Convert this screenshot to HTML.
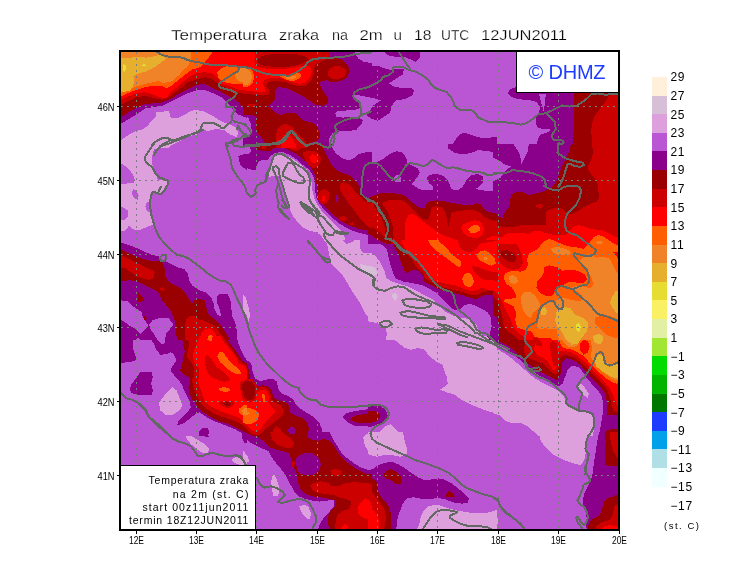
<!DOCTYPE html>
<html><head><meta charset="utf-8"><title>Temperatura zraka na 2m</title>
<style>
html,body{margin:0;padding:0;background:#fff;}
body{width:740px;height:582px;overflow:hidden;position:relative;font-family:"Liberation Sans",sans-serif;}
svg{position:absolute;left:0;top:0;}
text{font-family:"Liberation Sans",sans-serif;fill:#000;}
</style></head><body>
<svg style="will-change:transform" width="740" height="582" viewBox="0 0 740 582">
<defs><clipPath id="mapclip"><rect x="120" y="51" width="499" height="479"/></clipPath></defs>
<rect x="0" y="0" width="740" height="582" fill="#ffffff"/>
<g clip-path="url(#mapclip)" shape-rendering="crispEdges">
<rect x="120" y="51" width="499" height="479" fill="#BA55D3"/>
<path fill="#DDA0DD" d="M118.3,142.1 L126.8,136.1 L133.5,131.9 L142,129.4 L147.9,126 L151.2,120.9 L156.3,115.9 L156.3,112.5 L162.2,111.7 L169,111.1 L170.7,117.6 L177.4,118.4 L184.2,115 L190.9,110.8 L196.9,110 L204.5,111.7 L211.2,115 L218,119.3 L224.7,122.6 L231.5,125.2 L236.6,127.7 L238.2,132.8 L236.6,137 L229.8,134.5 L224.7,130.2 L219.7,129.4 L214.6,129.4 L207.8,131.1 L202.8,129.4 L199.4,131.9 L196.9,134.5 L192.6,135.3 L187.6,137 L182.5,139.5 L177.4,142.1 L172.4,144.6 L169,148 L118.3,148Z M118.3,144.3 L172.4,144.3 L162.2,146.8 L153.8,149.4 L152.4,155.3 L152.1,162.9 L153.8,169.6 L156.3,175.6 L158,179.8 L167.3,180.6 L168.1,184 L165.6,189.9 L160.5,194.1 L153.8,192.5 L151.2,195 L150.4,200.1 L151.2,208.5 L152.9,216.9 L154.6,223.7 L147,227.1 L140.3,229.6 L135.2,230.1 L131.8,228.8 L129.3,225.4 L126.8,228.8 L124.2,231.3 L118.3,231.3Z M158.9,403 L165.6,393.7 L172.4,387.3 L176.6,390.4 L180,398.8 L182.5,405.6 L179.1,410.6 L172.4,414.9 L165.6,414.9 L160.5,410.6Z M185.9,436.5 L190.9,435.7 L197.7,439.9 L204.5,444.1 L209.5,448.4 L207.8,452.6 L202.8,453.4 L196.9,449.2 L190.9,444.1 L187.6,439.9Z M231.5,459.3 L236.6,456.8 L243.3,457.6 L246.7,459.3 L246.7,465.2 L238.2,464.4 L233.2,461.9Z M272.9,158.7 L276.2,155.3 L281.3,154.4 L287.2,156.1 L294,159.5 L300.7,164.6 L306.7,169.6 L310,175.6 L311.7,183.2 L312.6,191.6 L314.3,198.4 L317.6,205.1 L322.7,212.7 L329.5,219.5 L336.2,225.4 L341.3,231.3 L344.7,237.2 L346.4,244 L327.8,244 L324.4,240.6 L321,235.5 L315.9,232.1 L309.2,230.5 L302.4,227.1 L297.4,222 L293.1,216.1 L289.8,209.3 L287.2,201.7 L284.7,193.3 L282.5,186.5 L281.3,179.8 L277.9,175.6 L272.9,176.4 L268.6,176.7 L268.3,173.9 L270.3,169.6 L272,164.6Z M371.7,240.3 L371.7,321.4 L370,319.7 L364.9,312.9 L359.9,302.8 L353.1,292.7 L348,284.2 L343,275.8 L336.2,269 L331.1,264 L329.5,255.5 L327.8,247.1 L326.1,240.3Z M243.3,294.4 L245.8,297.7 L249.2,309.6 L250.1,316.3 L248.4,321.4 L246.7,314.6 L243.3,312.9Z M272,476.2 L274.6,474.5 L277.9,483 L279.6,489.7 L277.9,495.7 L273.7,496.5 L272,489.7 L271.2,483Z M299.1,506.6 L304.1,504.9 L308.3,506.6 L310.9,513.4 L310,519.3 L306.7,518.5 L302.4,513.4Z M363.2,437.4 L366.6,434 L371.7,433.2 L371.7,450.9 L368.3,450.9 L364.9,445.8Z M243.3,450.9 L247.5,456 L249.2,461.9 L245,461 L243.3,459.3Z M368.3,253 L375.1,255.5 L380.1,262.3 L384.4,270.7 L386,277.5 L392,281.7 L400.4,284.2 L408.9,286.8 L417.3,291 L425.7,296.1 L434.2,300.3 L439.3,306.2 L444.3,311.3 L451.1,314.6 L457.8,317.2 L464.6,318 L471.4,320.5 L476.4,324.8 L478.1,329.8 L481.5,334.1 L488.2,340 L386,340 L386.9,333.2 L385.2,326.5 L376.8,323.1 L368.3,321.4Z M496.7,336.3 L496.7,413.2 L491.6,412.3 L481.5,408.9 L471.4,404.7 L461.2,399.7 L454.5,394.6 L446,392.1 L440.1,389.5 L444.3,387 L447.7,383.6 L446.9,376.9 L444.3,370.9 L442.6,365 L435.9,361.6 L428.3,354.9 L424.1,349 L417.3,348.1 L410.5,349.8 L403.8,347.3 L395.3,340.5 L388.6,336.3Z M376.8,436 L380.1,430.9 L386,425.8 L391.1,424.1 L395.3,428.4 L399.6,432.6 L402.1,436Z M368.3,432.3 L402.9,432.3 L404.6,440.8 L407.2,449.2 L406.3,455.1 L400.4,456.8 L392,455.1 L383.5,455.1 L376.8,456.8 L368.3,454.3Z M414.8,532 L419,525.2 L420.7,516.8 L424.1,510 L429.1,505.8 L437.6,504.9 L446,507.5 L454.5,510 L464.6,511.7 L474.7,513.4 L484.9,513.4 L491.6,511.7 L496.7,510 L496.7,532Z M493.3,348.1 L500.1,350.7 L506.8,354.9 L513.6,360 L520.3,365.9 L527.1,371.8 L533.9,377.7 L542.3,382.8 L550.7,387 L557.5,390.4 L562.6,394.6 L565.9,400.5 L569.3,405.6 L574.4,408.9 L579.5,410.6 L586.2,412.3 L593,415.7 L594.7,422.5 L593.8,429.2 L593,436 L538.9,436 L533.9,431.8 L527.1,425.8 L520.3,422.5 L511.9,423.3 L505.1,420.8 L500.1,415.7 L493.3,413.2Z M577.8,386.1 L581.1,383.9 L584.5,387 L588.8,393.7 L587.9,398 L582.8,394.6 L579.5,390.4Z M587.6,432.3 L587.1,442.4 L586.2,450.9 L584.5,459.3 L581.1,465.2 L574.4,463.6 L565.9,461 L559.2,457.6 L552.4,454.3 L545.7,447.5 L540.6,440.8 L538.9,432.3Z M493.3,516.8 L497.5,517.6 L498.4,523.5 L495.8,526.1 L493.3,525.2Z"/>
<path fill="#BA55D3" d="M118.3,162 L123.4,164.6 L128.4,168.8 L132.7,173.9 L134.9,179.8 L133.5,183.2 L126.8,183.5 L118.3,184.5Z M132.7,189.1 L136,189.9 L138.6,195 L137.7,200.1 L134.4,198.4 L132.2,194.1Z M118.3,206.8 L124.2,207.7 L128.4,211 L128.4,216.1 L125.1,219.5 L118.3,220.3Z M147,201.7 L150.4,202.6 L150.4,212.7 L147,211 L145.3,206.8Z M354,240.3 L353.1,242 L346.4,244 L343,240.3Z M371.7,240.3 L371.7,253.5 L363.2,252.5 L359.9,248.8 L359.9,240.3Z"/>
<path fill="#8B008B" d="M118.3,46.6 L246.7,46.6 L246.7,117.6 L238.2,114.7 L229.8,105.7 L221.4,97.3 L212.9,93.1 L207.8,91 L202.8,89.7 L196,90.5 L187.6,93.1 L179.1,97.3 L170.7,101.5 L162.2,105.7 L153.8,107.1 L145.3,108.3 L136.9,114.2 L128.4,119.3 L118.3,125.2Z M238.2,156.1 L245,153.6 L246.7,153.6 L246.7,169.6 L245,168.8 L239.9,164.6 L239.1,159.5Z M118.3,242.8 L125.1,243.7 L131.8,246.2 L138.6,248.8 L145.3,252.1 L152.1,254.7 L158.9,256.4 L160.5,260.6 L165.6,261.4 L170.7,264 L177.4,267.3 L184.2,269 L187.6,273.2 L189.3,280.9 L192.6,285.9 L199.4,290.1 L206.1,292.7 L211.2,297.7 L213.8,303.7 L214.6,309.6 L217.1,314.6 L221.4,316.3 L219.7,309.6 L217.1,302.8 L216.6,297.7 L218.8,294.7 L223,293.5 L228.1,294.4 L230.6,301.1 L231.5,309.6 L232.3,316.3 L234.9,321.4 L236.6,329.8 L236.6,340 L118.3,340Z M118.3,336.3 L132.7,336.3 L133.5,343.1 L136,348.1 L136.9,354.9 L135.2,360.8 L126.8,362.5 L118.3,363.3Z M246.7,336.3 L246.7,435.1 L241.6,432.6 L234.9,429.2 L226.4,425.8 L218,422.5 L211.2,419.9 L204.5,415.7 L199.4,412.3 L194.3,414.9 L189.3,419.1 L182.5,424.1 L177.4,425 L178.3,420.8 L182.5,417.4 L187.6,412.3 L190.9,407.3 L189.3,400.5 L185,392.1 L182.5,386.1 L179.1,380.2 L174.9,376 L170.7,370.9 L172.4,365.9 L176.6,360.8 L174.1,354.9 L170.7,352.4 L166.5,354 L160.5,354.9 L156.3,349.8 L153.8,343.1 L147.9,336.3Z M130.1,388.7 L131.8,383.6 L136,378.5 L140.3,371.8 L145.3,369.2 L151.2,370.9 L152.9,376.9 L151.2,383.6 L152.9,390.4 L152.1,394.6 L145.3,395.4 L136.9,394.6 L131,392.9Z M198.5,431.8 L201.9,428.4 L207,427.5 L209.5,430.9 L207.8,436 L199.4,436Z M201.1,432.3 L207.8,432.3 L208.7,436.5 L205.3,437.4Z M241.6,432.3 L246.7,432.3 L246.7,443.3 L244.2,442.4 L242,437.4Z M243.3,46.6 L354.8,46.6 L355.1,54.2 L358.2,58.4 L363.2,61.5 L371.7,63.2 L371.7,98.1 L370,97.6 L353.8,94.3 L352.4,97 L354,100 L359,102 L360.5,107.9 L356.5,109.5 L346.4,110.5 L337.1,111.1 L335.4,113.3 L336.2,116.7 L343,117.6 L349.7,117.1 L356.5,117.6 L361.6,118.9 L362.6,120.1 L362.1,123 L356,130.1 L349.7,130.7 L339.6,131.4 L332.8,132.8 L329.5,137.8 L327.8,148 L243.3,148 L243.3,137.8 L248.4,136.1 L251.8,131.1 L250.9,124.3 L248.4,117.6 L243.3,114.2Z M243.3,144.3 L331.5,144.3 L332.8,149.4 L337.1,154.4 L343,158.7 L349.7,160.4 L354.8,157.8 L358.2,154.4 L363.2,152.8 L370,151.9 L371.7,151.9 L371.7,237.2 L370,235.5 L363.2,233.8 L356.5,232.1 L348,228.8 L339.6,223.7 L331.1,216.9 L324.4,210.2 L319.3,203.4 L315.9,196.7 L315.1,188.2 L314.3,179.8 L312.6,174.7 L309.2,169.6 L302.4,164.6 L295.7,158.7 L288.9,154.4 L282.2,151.9 L275.4,152.8 L270.3,156.1 L267.8,160.4 L263.6,159.5 L259.4,160.9 L256.8,164.6 L256,169.6 L251.8,169.6 L246.7,168 L243.3,166.3Z M243.3,359.1 L248.4,360.8 L251.8,365 L252.6,371.8 L255.1,378.5 L260.2,381.1 L267,379.4 L272.9,378.5 L277.1,381.9 L277.9,388.7 L282.2,393.7 L288.9,396.3 L293.1,399.7 L295.7,404.7 L300.7,408.9 L307.5,413.2 L314.3,417.4 L319.3,422.5 L321.9,429.2 L323.5,436 L243.3,436Z M342.6,417.4 L346.4,413.2 L353.1,411.5 L363.2,409.8 L371.7,408.9 L371.7,426.7 L363.2,425.8 L354.8,425.8 L348,422.5Z M329.5,432.3 L332.8,439.1 L337.1,445.8 L341.3,452.6 L346.4,457.6 L353.1,462.7 L359.9,466.9 L366.6,469.5 L371.7,470.3 L371.7,532 L317.6,532 L318.5,527.8 L321,521.8 L324.4,516.8 L329.5,511.7 L333.7,506.6 L334.5,499.9 L326.1,500.7 L319.3,501.6 L312.6,500.7 L305.8,499 L299.1,496.5 L294,491.4 L290.6,484.7 L287.2,477.9 L282.2,470.3 L277.1,464.4 L272,457.6 L268.6,450.9 L263.6,449.2 L256.8,445.8 L250.1,442.4 L243.3,437.4 L243.3,432.3Z M381.8,46.6 L420.7,46.6 L419.8,57.6 L415.6,61.8 L410.5,59.3 L403.8,56.8 L395.3,56.8 L386.9,55.1Z M368.3,65.2 L378.4,66 L385.2,68.6 L392,70.3 L397,68.6 L403.8,69.4 L402.9,74.5 L397,77.9 L392,81.2 L388.9,83.4 L395.3,87.2 L403.8,88 L411.4,88 L414.3,90.5 L412.2,95.6 L407.2,98.1 L400.4,99.8 L395.3,100.7 L392.8,104.1 L391.1,108.3 L390.3,112.5 L385.2,115.9 L380.1,119.3 L377.4,120.8 L372,118.9 L366.8,115.4 L373.2,105.7 L380.8,100.3 L373.4,98.1 L368.3,97Z M451.1,148 L454.5,141.2 L457.8,136.1 L462.1,133.1 L468,133.6 L474.7,136.1 L481.5,137.8 L488.2,137.8 L496.7,137 L496.7,148Z M368.3,161.2 L376.8,162 L383.5,158.7 L390.3,153.6 L397,151.1 L402.9,152.8 L406.3,157.8 L407.2,162.9 L412.2,165.4 L417.3,168 L419.8,172.2 L417.3,177.2 L413.9,181.5 L411.4,184 L419,189.1 L425.7,190.3 L432.5,189.9 L433.3,186.5 L429.1,183.2 L426.6,178.9 L428.3,175.6 L433.3,173.9 L440.9,174.7 L446,178.1 L449.4,183.2 L451.1,189.1 L457.8,190.3 L462.1,187.4 L465.4,182.3 L468,178.1 L471.4,175.1 L478.1,173.9 L483.2,176.4 L483.5,181.5 L479.8,185.7 L475.6,189.1 L481.5,190.3 L488.2,190.8 L496.7,190.3 L496.7,244 L368.3,244Z M496.7,144.3 L496.7,152.8 L488.2,151.1 L478.1,150.2 L471.4,152.8 L462.9,154.4 L454.5,152.8 L448.5,148.5 L447.7,144.3Z M496.7,240.3 L496.7,340 L488.2,340 L489.9,333.2 L491.6,326.5 L490.8,318 L488.2,312.9 L483.2,309.6 L476.4,306.2 L469.7,303.7 L464.6,305.3 L461.2,308.7 L456.1,310.4 L451.1,307.9 L446,302.8 L440.9,297.7 L435.9,292.7 L429.1,288.5 L422.4,285.1 L413.9,283.4 L403.8,281.7 L395.3,278.3 L392.8,272.4 L390.3,264 L388.6,257.2 L386.9,248.8 L380.1,243.7 L373.4,240.3Z M368.3,405.6 L375.1,404.7 L381,406.4 L386,410.6 L387.7,415.7 L384.4,421.6 L378.4,424.1 L371.7,426.7 L368.3,427.5Z M496.7,336.3 L496.7,341.4 L491.6,340.5 L486.6,336.3Z M368.3,470.3 L373.4,468.6 L378.4,465.2 L385.2,462.7 L392,461.9 L398.7,464.4 L405.5,468.6 L412.2,473.7 L419,477.9 L424.1,479.9 L430.8,479.6 L437.6,478.3 L444.3,479.6 L451.1,483 L457.8,488.1 L464.6,494 L468.8,498.2 L468,503.3 L461.2,503.6 L452.8,502.4 L444.3,499 L437.6,497.9 L430.8,499 L422.4,499 L413.9,497.3 L407.2,498.2 L402.9,503.3 L400.4,510 L397.9,516.8 L396.7,523.5 L396.2,532 L368.3,532Z M621.7,87.2 L621.7,148 L535.5,148 L538.1,138.7 L540.6,134.5 L545.7,132.8 L550.7,131.1 L549.1,128.5 L544,129.4 L538.1,127.7 L535.5,122.6 L536.4,116.7 L539.3,111.7 L539.8,106.6 L537.2,102.4 L532.2,100.7 L525.4,99.8 L517,99 L511.9,97.3 L507.7,93.1 L510.2,88.9 L516.1,87.2Z M493.3,144.3 L621.7,144.3 L621.7,244 L493.3,244Z M493.3,336.3 L621.7,336.3 L621.7,436 L599.7,436 L600.6,425.8 L602.3,417.4 L603.1,408.9 L603.1,402.2 L601.4,395.4 L598,390.4 L593,385.3 L587.1,378.5 L582.8,371.8 L577.8,366.7 L571,365.9 L567.6,370.1 L565.1,376.9 L562.6,383.6 L559.2,386.1 L554.1,384.5 L545.7,379.4 L537.2,374.3 L528.8,367.6 L522,361.6 L515.3,355.7 L508.5,350.7 L500.1,344.8 L493.3,341.4Z M621.7,432.3 L621.7,532 L587.1,532 L586.2,526.1 L587.1,520.1 L585.4,511.7 L582.8,503.3 L583.7,494.8 L587.1,488.1 L590.4,481.3 L593,472.9 L593.8,462.7 L595.5,452.6 L597.2,442.4 L598.9,432.3Z"/>
<path fill="#9B0000" d="M118.3,46.6 L246.7,46.6 L246.7,113.3 L238.2,101.5 L229.8,96.8 L221.4,91.9 L212.9,88 L206.1,84.3 L201.1,83.8 L196,85.5 L187.6,88.9 L179.1,93.9 L170.7,99 L162.2,102.4 L153.8,103.2 L145.3,104.1 L136.9,108.3 L128.4,112.5 L118.3,118.9Z M118.3,248.8 L125.1,251.3 L131.8,254.7 L138.6,257.2 L145.3,259.7 L152.1,261.4 L158.9,260.6 L163.1,263.1 L164.8,269 L164.8,275.8 L168.1,280.9 L174.1,285.1 L180.8,288.5 L185,292.7 L189.3,299.4 L191.8,303.7 L194.3,300.3 L199.4,298.6 L204.5,300.3 L206.1,306.2 L207.8,312.9 L212.9,318 L218,322.2 L223,328.1 L228.1,336.6 L229.8,340 L177.4,340 L175.7,333.2 L175.7,326.5 L174.1,318 L170.7,311.3 L165.6,304.5 L161.4,300.3 L159.7,294.4 L156.3,291 L150.4,287.6 L143.6,284.2 L136.9,281.7 L130.1,280 L123.4,281.2 L118.3,282.2Z M137.7,292.7 L143.6,297.7 L143.6,301.1 L137.7,302Z M142,318 L144.5,316 L147,318.9 L144.5,321.1Z M224.7,336.3 L229.8,343.1 L234.9,349.8 L238.2,354.9 L241.6,360 L246.7,363.3 L246.7,432.6 L241.6,430.1 L234.9,426.7 L226.4,423.3 L218,420.8 L211.2,417.4 L204.5,413.2 L199.4,408.9 L196,404.7 L192.6,399.7 L189.3,393.7 L188.4,387 L190.1,381.9 L189.3,377.7 L184.2,374.3 L180,370.9 L181.7,365 L183.3,358.3 L185,351.5 L183.3,344.8 L181.7,336.3Z M243.3,46.6 L330.3,46.6 L330.3,56.8 L336.2,58.4 L343,60.1 L348,65.2 L349.7,72 L346.4,77.9 L339.6,81.2 L332.8,82.1 L326.1,80.4 L321,81.2 L319.3,83.8 L322.7,90.5 L326.1,95.6 L328.6,99.8 L327.8,103.2 L322.7,105.7 L315.9,104.9 L310.9,101.5 L305.8,98.1 L299.1,93.9 L292.3,90.5 L285.5,88 L278.8,87.2 L275.4,89.7 L275.4,95.6 L274.6,99.8 L270.3,104.1 L267.8,106.6 L270.3,108.3 L275.4,112.5 L280.5,115 L287.2,113.3 L294,112.8 L299.1,115.9 L302.4,120.1 L309.2,121.8 L315.9,125.2 L319.3,131.1 L320.2,137.8 L315.9,141.2 L309.2,142.9 L304.1,148 L270.3,148 L265.3,143.8 L261.9,137.8 L258.5,134.5 L256,129.4 L256,122.6 L256.8,117.6 L251.8,115 L243.3,115Z M274.6,144.3 L273.7,147.7 L270.3,151.1 L263.6,151.4 L256.8,149.4 L255.8,144.3Z M323.4,144.3 L324.4,151.1 L327.8,157.8 L331.1,164.6 L336.2,169.6 L343,173 L349.7,175.6 L354.8,179.8 L359.9,186.5 L361.6,193.3 L364.9,198.4 L371.7,201.7 L371.7,231.3 L366.6,230.5 L358.2,228.8 L349.7,225.4 L341.3,221.2 L332.8,214.4 L326.1,207.7 L321,201.7 L317.6,195 L316.8,186.5 L315.9,178.1 L313.4,171.3 L309.2,164.6 L302.4,158.7 L295.7,153.6 L290.6,151.1 L286.4,148.5 L284.7,144.3Z M243.3,363.3 L247.5,365.9 L249.2,371.8 L250.1,378.5 L253.4,384.5 L258.5,386.1 L263.6,385.3 L268.6,387 L272,390.4 L272.9,397.1 L278.8,400.5 L285.5,402.2 L289.3,405.6 L289.8,412.3 L295.7,415.7 L302.4,418.2 L307.5,422.5 L308.9,429.2 L307.5,436 L253.4,436 L243.3,431.8Z M349.7,419.1 L354.8,415.7 L363.2,414 L371.7,413.2 L371.7,423.3 L363.2,423.3 L354.8,422.1Z M305.8,432.3 L307.5,437.4 L312.6,439.9 L318.5,440.8 L322.7,439.1 L327.8,439.9 L332.8,444.1 L337.1,450.9 L341.3,456.8 L346.4,461.9 L353.1,466.9 L359.9,471.2 L366.6,473.7 L371.7,474.5 L371.7,532 L329.5,532 L328.1,523.5 L327.8,516.8 L330.3,511.7 L334.5,506.6 L336.2,500.7 L329.5,499 L321,497.3 L312.6,496.5 L305.8,494 L300.7,489.7 L298.2,483 L297.4,475.4 L295.7,470.3 L293.1,467.8 L291.5,461 L289.8,453.4 L283.9,451.7 L277.1,450 L270.3,447.5 L265.3,442.4 L258.5,437.4 L253.4,432.3Z M368.3,198.4 L375.1,195 L383.5,192.5 L392,193 L400.4,194.1 L406.3,196.7 L410.5,200.9 L415.6,205.1 L420.7,207.7 L424.1,208.5 L426.6,203.4 L430.8,200.9 L437.6,200.4 L446,201.7 L454.5,203.4 L464.6,205.1 L471.4,205.1 L476.4,203.4 L480.6,204.3 L483.2,208.5 L488.2,211.9 L496.7,213.6 L496.7,244 L388.6,244 L383.9,243.1 L376.9,238.9 L368.3,234Z M496.7,240.3 L496.7,296.1 L491.6,295.2 L484.9,294.7 L479.8,296.9 L476.4,299.4 L469.7,297.7 L462.9,295.2 L456.1,293.5 L449.4,292.7 L442.6,291 L435.9,287.6 L429.1,284.2 L424.1,281.7 L423.2,275.8 L419,270.7 L413.1,269.9 L408.9,272.4 L405.5,273.2 L402.9,267.3 L400.4,260.6 L397.9,253.8 L394.5,247.1 L392,240.3Z M368.3,410.6 L374.2,410.6 L379.3,413.2 L380.1,417.4 L376.8,420.8 L371.7,422.5 L368.3,423.3Z M383.2,475.4 L386,471.2 L390.3,469.1 L395.3,471.2 L400.4,475.4 L401.8,480.5 L400.4,484.7 L395.3,483.8 L390.3,479.6 L385.2,478.3Z M446.4,494 L448.5,491.4 L452.8,493.1 L454.5,496.5 L449.4,497.3 L446.4,496.5Z M368.3,478.8 L375.1,479.6 L377.6,484.7 L378.4,491.4 L381.8,498.2 L386.9,503.3 L390.3,510 L391.1,518.5 L391.1,532 L368.3,532Z M621.7,87.2 L621.7,148 L573,148 L573.5,131.1 L574.1,117.6 L574.1,87.2Z M621.7,144.3 L621.7,244 L493.3,244 L493.3,214.4 L498.4,216.9 L505.1,218.6 L502.6,215.3 L505.1,211.9 L509.4,206.8 L510.2,200.1 L511,194.1 L517,191.9 L522.9,192.5 L528.8,195 L535.5,193.3 L542.3,191.6 L549.1,189.1 L554.1,184.9 L557.5,178.9 L560,171.3 L562.6,164.6 L565.9,157.8 L569.3,151.1 L571,144.3Z M493.3,336.3 L621.7,336.3 L621.7,416.5 L618.3,415.7 L613.2,414.9 L607.3,414.9 L606.5,408.9 L606.5,400.5 L604.8,393.7 L601.4,387.8 L596.4,382.8 L591.3,377.7 L586.2,371.8 L581.1,365.9 L576.1,361.6 L571,359.1 L565.9,358.3 L562.6,361.6 L561.7,368.4 L560,376 L557.5,380.2 L552.4,377.7 L545.7,374.3 L537.2,370.1 L528.8,364.2 L522.9,359.1 L517,353.2 L510.2,347.3 L501.8,342.2 L493.3,338.8Z M604.8,436 L605.6,430.9 L611.6,429.2 L621.7,428.4 L621.7,436Z M621.7,432.3 L621.7,466.9 L613.2,466.1 L605.6,465.2 L604.8,459.3 L604.8,450.9 L605.6,440.8 L604.8,432.3Z M587.1,532 L588.8,523.5 L593,518.5 L599.7,515.1 L602.3,508.3 L603.1,501.6 L608.2,498.2 L614.9,495.7 L621.7,493.1 L621.7,532Z"/>
<path fill="#CD0000" d="M118.3,46.6 L246.7,46.6 L246.7,93.6 L238.2,93.1 L229.8,89.2 L221.4,86.3 L212.9,79.6 L209.5,77.9 L204.5,77 L196,79.6 L187.6,82.1 L179.1,89.7 L170.7,95.6 L162.2,99.8 L153.8,98.1 L145.3,95.6 L136.9,97.3 L128.4,100.7 L118.3,106.6Z M118.3,253.8 L125.1,257.2 L131.8,260.6 L138.6,264 L145.3,267.3 L152.1,269.9 L154.6,272.4 L153.8,278.3 L148.7,280 L142,278.3 L136.9,276.6 L130.1,271.6 L125.1,268.2 L118.3,267.3Z M159.7,289 L162.6,286.8 L165.3,289.3 L162.6,291.3Z M185,340 L185,326.5 L185.9,319.7 L189.3,316.3 L194.3,316.3 L199.4,319.7 L206.1,321.4 L212.9,324.8 L218,329.8 L221.4,334.9 L223,340Z M223,336.3 L227.3,343.1 L231.5,348.1 L234.9,353.2 L238.2,358.3 L241.6,362.5 L246.7,365.9 L246.7,426.7 L238.2,422.5 L229.8,419.1 L221.4,416.5 L214.6,414 L207.8,409.8 L202.8,405.6 L199.4,400.5 L196,393.7 L193.5,387 L191.8,380.2 L194.3,375.2 L194.3,368.4 L190.9,361.6 L186.7,356.6 L187.6,351.5 L189.3,344.8 L187.6,336.3Z M243.3,46.6 L329.5,46.6 L329.5,55.9 L324.4,60.1 L319.3,62.7 L315.9,64.4 L314.3,68.6 L313.4,75.3 L310.9,81.2 L305.8,85.5 L299.1,86.3 L292.3,84.6 L285.5,82.1 L278.8,81.2 L272,81.2 L267,82.9 L266.1,86.3 L269.5,90.5 L268.6,94.3 L263.6,95.6 L255.1,94.8 L245,93.6 L243.3,93.6Z M247.5,104.4 L255.1,104.1 L255.1,106.6 L247.5,106.9Z M327.8,72.8 L329.5,68.6 L334.5,66.4 L340.4,66.4 L345.5,69.4 L346.4,72.8 L343.8,77 L337.9,79.6 L332,78.7 L328.6,76.2Z M276.2,148 L275.9,137.8 L277.1,129.4 L281.3,124.7 L287.2,124 L292.3,126.9 L295.7,131.1 L300.7,136.1 L305,141.2 L307.5,144.6 L305.8,148Z M300.7,144.3 L300.7,148.5 L297.4,151.1 L292.3,150.2 L287.2,147.7 L285.5,144.3Z M302.4,152.8 L307.5,151.1 L312.6,150.7 L317.6,152.8 L321,157.8 L320.2,163.7 L316.8,167.1 L312.6,168 L308.3,164.6 L305,159.5Z M317.6,195 L320.2,190.8 L324.4,189.1 L328.6,191.6 L329.5,196.7 L327.8,201.7 L324.4,204.3 L320.2,202.6 L318,199.2Z M339.6,184.9 L343,182.3 L348,184 L353.1,189.1 L358.2,195 L363.2,200.1 L370,204.3 L371.7,205.1 L371.7,228.8 L366.6,225.4 L361.6,220.3 L356.5,213.6 L351.4,206.8 L346.4,200.1 L342.1,193.3 L339.6,189.1Z M338.8,216.9 L344.7,216.1 L347.2,219.5 L343,221.2 L339.6,220Z M348.9,222.9 L353.1,222.4 L354.8,225.1 L350.6,225.4Z M267,144.3 L266.1,148.5 L261.9,148.5 L261.2,144.3Z M243.3,367.6 L246.7,371.8 L247.5,378.5 L249.2,385.3 L252.6,388.7 L256.8,387.8 L261.9,387 L267,387.8 L270.3,392.1 L271.2,398.8 L274.6,402.2 L281.3,405.6 L284.2,410.6 L283,414.9 L277.1,419.9 L267.6,427.4 L260.9,434.1 L256.8,435.5 L251.4,434.1 L246,428.7 L240.4,423.3Z M272,436 L272.9,430.1 L276.2,426.2 L280.5,429.2 L285.5,436Z M283,432.3 L285.5,434.8 L290.6,438.2 L294,442.4 L293.1,446.7 L288.9,448.4 L282.2,446.7 L276.2,444.1 L272,439.1 L270.3,432.3Z M292.3,461 L294.8,461.9 L294.3,467.8 L292,466.9Z M330.3,470.3 L336.2,468.6 L342.1,471.2 L341.3,474.5 L335.4,476.2 L331.1,473.7Z M310,485.5 L314.3,483 L321,481.3 L327.8,483 L332.8,486.4 L339.6,485.5 L346.4,483 L354.8,482.1 L363.2,483 L371.7,483.8 L371.7,532 L334.5,532 L335.4,523.5 L337.1,515.1 L343,510.9 L349.7,508.3 L351.4,501.6 L346.4,499 L339.6,497.3 L332.8,494.8 L326.1,494 L319.3,493.1 L312.6,490.6Z M368.3,203.4 L378.4,203.4 L385.2,202.1 L388.6,200.1 L395.3,199.7 L402.1,200.4 L407.2,203.4 L412.2,208.5 L417.3,213.6 L422.4,218.6 L428.3,220.3 L430,213.6 L431.7,207.7 L436.7,206 L442.6,207.7 L446,213.6 L446.9,220.3 L448.5,226.2 L450.2,218.6 L451.1,212.7 L457.8,211 L466.3,210.2 L474.7,210.2 L479.8,212.7 L484.9,216.9 L491.6,220.3 L496.7,221.2 L496.7,244 L386.9,244 L385.7,239.2 L383.9,236.5 L376.9,230 L367.6,224.5Z M496.7,240.3 L496.7,290.1 L489.9,291 L483.2,291.8 L478.1,294.7 L471.4,295.2 L464.6,292.7 L457.8,291 L451.1,289.3 L444.3,287.9 L437.6,285.1 L430.8,281.7 L424.9,278.3 L423.2,273.2 L418.1,269 L414.8,264.8 L412.2,259.7 L408.9,256.4 L403.8,252.1 L399.6,247.1 L397,240.3Z M368.3,492.3 L373.4,493.1 L377.6,499.9 L381.8,504.9 L385.2,511.7 L386,520.1 L383.5,532 L368.3,532Z M621.7,87.2 L621.7,148 L593,148 L591.6,137.8 L591.3,129.4 L592.1,122.6 L594.7,115.9 L599.7,109.1 L604.8,102.4 L609,95.6 L611.6,87.2Z M621.7,144.3 L621.7,244 L493.3,244 L493.3,221.2 L495,225.4 L503.4,226.7 L511.9,227.1 L520.3,225.4 L528.8,224.5 L537.2,225.1 L545.7,224.5 L546.5,220.3 L545.7,213.6 L548.2,210.2 L554.1,208.2 L560.9,208.5 L565.1,211 L567.6,214.4 L572.7,213.6 L577.8,211 L582.8,207.7 L589.6,204.3 L596.4,201.7 L598.9,198.4 L598.4,189.9 L597.2,181.5 L593,176.4 L588.8,171.3 L587.9,166.3 L591.3,159.5 L593,152.8 L592.1,144.3Z M535.5,206 L539.8,203.4 L544,206 L539.8,208.8Z M493.3,290.1 L498.4,294.4 L502.6,302.8 L506,311.3 L510.2,318 L513.2,327.3 L518.6,333.2 L524.6,337.9 L526.2,340 L493.3,340Z M493.3,240.3 L513.6,240.3 L518.6,247.1 L522,255.5 L522.9,264 L518.6,269 L511.9,269.9 L505.1,267.3 L500.1,262.3 L496.7,255.5 L493.3,252.1Z M493.3,270.7 L497.5,272.4 L498.4,277.5 L496.7,281.7 L493.3,282.5Z M621.7,336.3 L621.7,412.7 L616.6,412.3 L613.2,410.6 L611.6,403.9 L609.9,397.1 L607.3,390.4 L603.1,384.5 L598,379.4 L593,374.3 L587.9,369.2 L582.8,364.2 L577.8,360 L572.7,356.6 L565.9,354.9 L560.9,356.6 L559.2,361.6 L558.3,370.1 L556.7,374.3 L551.6,372.6 L547.4,367.6 L542.3,363.3 L535.5,360.8 L528.8,358.3 L524.6,354 L523.7,348.1 L525.4,343.1 L523.7,336.3Z M621.7,432.3 L621.7,459.3 L616.6,457.6 L613.2,450.9 L610.7,442.4 L609.9,432.3Z M594.7,532 L596.4,526.1 L603.1,521.8 L609.9,520.1 L613.2,513.4 L614.1,506.6 L618.3,503.3 L621.7,501.6 L621.7,532Z"/>
<path fill="#FF0000" d="M118.3,46.6 L246.7,46.6 L246.7,89.7 L238.2,89.7 L229.8,86.3 L221.4,83.8 L218,78.7 L212.9,73.6 L204.5,72 L196,73.6 L187.6,77.9 L179.1,85.5 L170.7,92.2 L166.5,98.1 L162.2,98.1 L153.8,94.8 L145.3,92.2 L136.9,93.1 L128.4,96.5 L118.3,101.5Z M199.4,340 L201.1,333.2 L204.5,329.8 L209.5,328.1 L213.8,330.7 L216.3,334.9 L218,340Z M220.5,336.3 L224.7,343.1 L229,348.1 L233.2,353.2 L236.6,358.3 L238.2,363.3 L243.3,365.9 L246.7,370.1 L246.7,420.8 L238.2,417.4 L231.5,414.9 L223,412.3 L216.3,408.9 L209.5,405.6 L204.5,400.5 L202.8,395.4 L200.2,388.7 L197.7,381.9 L199.4,375.2 L198.5,368.4 L194.3,361.6 L192.6,354.9 L194.3,349.8 L196.9,343.1 L199.4,336.3Z M243.3,46.6 L255.1,46.6 L255.1,56.8 L254.3,61.8 L256,66 L261.9,68.2 L272,68.9 L283.9,68.9 L294,67.7 L300.7,66 L305.8,65.2 L310,66.9 L311.7,72 L310,77.9 L305.8,82.1 L300.7,83.8 L294,82.9 L287.2,80.4 L278.8,77.9 L270.3,77.9 L264.4,80.4 L262.7,83.8 L265.3,88 L265.6,91.4 L261.9,92.6 L253.4,91.4 L243.3,90.2Z M281.3,148 L281.3,139.5 L283,135.3 L287.2,134.1 L290.6,136.1 L294,141.2 L295.7,148Z M296.5,144.3 L295.7,147.4 L293.1,147.4 L291.5,144.3Z M309.2,157 L312.6,154.4 L316.8,156.1 L318.5,160.4 L315.9,162.9 L312.6,162.9 L310,160.4Z M321.9,196.7 L324.4,195.8 L325.2,200.1 L322.7,201.7Z M243.3,403.9 L250.1,402.2 L255.1,397.1 L257.7,392.1 L261.9,389.5 L266.1,390.4 L268.6,395.4 L268.6,402.2 L272,407.3 L275.4,411.5 L272,415.7 L268.6,419.1 L265.3,422.5 L264.9,422 L260.9,428.7 L256.8,432.1 L251.4,430.1 L246,424.7 L240.4,419.2 L240.4,403.7Z M357.3,508.3 L361.6,501.6 L365.8,498.2 L370,501.6 L371.7,504.9 L371.7,518.5 L366.6,519.3 L361.6,516.8 L358.2,513.4Z M341.3,526.9 L344.7,523.5 L348,526.1 L346.4,532 L341.3,532Z M405.5,244 L404.6,233.8 L405.5,222 L408,215.3 L412.2,213.6 L417.3,216.9 L424.1,222 L430.8,227.1 L437.6,232.1 L444.3,235.5 L451.1,238.1 L457.8,240.6 L461.2,244Z M461.2,228.8 L462.9,224.5 L468,222 L474.7,220.3 L479.8,221.2 L483.2,225.4 L484,230.5 L481.5,235.5 L476.4,238.1 L469.7,237.2 L463.8,233.8Z M484.9,244 L486.6,238.9 L491.6,236.4 L496.7,235.5 L496.7,244Z M496.7,240.3 L496.7,289.3 L491.6,290.1 L486.6,289.3 L481.5,287.6 L478.1,290.1 L471.4,291 L466.3,290.1 L461.2,287.6 L454.5,285.1 L447.7,284.2 L440.9,282.5 L434.2,280.5 L428.3,276.6 L425.7,271.6 L420.7,267.3 L417.3,262.3 L413.9,257.2 L408.9,252.1 L403.8,247.1 L401.2,240.3Z M368.3,508.3 L373.4,510 L377.6,515.1 L379.3,521.8 L379.3,532 L368.3,532Z M493.3,236.4 L501.8,237.2 L506.8,233.8 L513.6,232.5 L522,233 L528.8,233.8 L533.9,231.3 L538.9,230.5 L545.7,233 L552.4,234.7 L559.2,235.5 L565.9,234.7 L569.3,231.3 L572.7,227.1 L577.8,225.1 L584.5,226.7 L591.3,228.8 L596.4,229.6 L603.1,230.5 L609.9,233.8 L616.6,237.2 L621.7,238.1 L621.7,244 L493.3,244Z M621.7,240.3 L621.7,340 L526.2,340 L524.6,337.9 L518.6,333.2 L513.2,327.3 L510.2,318 L506,311.3 L502.6,302.8 L498.4,294.4 L493.3,290.1 L493.3,282.5 L496.7,281.7 L498.4,277.5 L497.5,272.4 L493.3,270.7 L493.3,252.1 L496.7,255.5 L500.1,262.3 L505.1,267.3 L511.9,269.9 L518.6,269 L522.9,264 L522,255.5 L518.6,247.1 L513.6,240.3Z M621.7,336.3 L621.7,408.9 L618.3,407.3 L615.8,402.2 L613.2,395.4 L609.9,388.7 L605.6,383.6 L601.4,378.5 L596.4,373.5 L591.3,368.4 L586.2,363.3 L581.1,359.1 L576.1,354.9 L571,352.4 L565.9,351.2 L560,351.5 L557.8,354.9 L557.2,360 L556.7,366.7 L554.1,370.9 L550.7,365.9 L547.4,360.8 L542.3,357.4 L537.2,354.9 L533.9,349.8 L535.5,343.1 L534.7,336.3Z M600.6,532 L603.1,526.9 L609.9,524.9 L616.6,526.1 L620,528.6 L621.7,532Z"/>
<path fill="#FF5F00" d="M118.3,46.6 L212.1,46.6 L212.1,53.4 L207.8,58.4 L204.5,62.7 L201.1,66.9 L196,68.6 L192.6,69.4 L187.6,72.8 L179.1,79.6 L170.7,86.3 L166.5,88 L162.2,86.3 L153.8,85.5 L145.3,87.2 L136.9,89.7 L128.4,93.1 L118.3,97.3Z M217.1,72 L222.2,67.7 L229.8,65.5 L238.2,65.5 L246.7,66.9 L246.7,84.6 L238.2,84.3 L229.8,83.4 L222.2,81.8 L218.3,77.9Z M118.3,46.6 L129.3,46.6 L126.8,54.2 L122.5,56.4 L118.3,57.6Z M207,340 L208.7,335.8 L211.2,334.1 L212.6,340Z M212.6,336.3 L212.1,341.4 L208.7,340.5 L207.8,336.3Z M217.1,356.6 L219.7,351.5 L223,352.4 L226.4,356.6 L229.8,361.6 L234.9,365.9 L239.9,370.1 L240.8,373.5 L236.6,374.3 L231.5,371.8 L225.6,367.6 L220.5,362.5Z M218,388.7 L223,387 L228.1,387.8 L230.6,390.4 L226.4,392.1 L221.4,391.2Z M239.1,408.9 L242.5,405.6 L246.7,404.7 L246.7,414 L241.6,414.9 L239.1,412.3Z M277.1,74.5 L283.9,75.3 L290.6,75.3 L295.7,73.6 L299.9,72.8 L301.6,75.3 L299.1,78.7 L294,81.2 L288.1,80.4 L282.2,77.9Z M243.3,66.9 L248.4,67.7 L252.6,71.1 L254.3,77 L252.6,82.9 L249.2,86.3 L243.3,87.5Z M243.3,408.9 L250.1,408.1 L255.1,409.8 L259.4,414 L257.7,419.9 L253.4,423.3 L248.4,424.1 L243.3,423.3Z M261.9,394.6 L264.4,393.7 L265.3,402.2 L263.2,402.2Z M468,229.6 L471.4,226.2 L476.4,224.5 L479.8,227.1 L479.8,230.5 L475.6,233 L470.5,232.5Z M438.4,240.3 L440.1,242.8 L445.2,246.2 L448,249.6 L451.1,254.2 L456.1,257.5 L460.4,260.9 L461.2,264.8 L459.5,267.3 L455.3,264.8 L448.5,259.7 L441.8,254.7 L435,249.6 L430,244.5 L428.3,240.3Z M462.1,278.3 L464.6,274.1 L468.8,272.4 L472.2,275.8 L473.9,281.7 L472.2,285.9 L468,287.6 L463.8,284.2Z M476.4,254.7 L479.8,251.3 L484.9,250.4 L490.8,253.8 L495,258.9 L495.8,264 L491.6,265.6 L486.6,264 L481.5,261.4 L478.1,258.9Z M544,244 L545.7,240.6 L549.9,238.9 L553.3,240.6 L555,244Z M589.6,244 L591.3,239.8 L596.4,236.4 L601.4,236.4 L604.8,238.9 L608.2,244Z M621.7,340 L552.4,340 L550.7,337.9 L534.7,337.4 L533.2,334.1 L530.5,331.5 L523.7,329.8 L517,327.3 L515.3,319.7 L516.1,312.9 L513.6,306.2 L508.5,303.7 L503.4,301.1 L505.1,299.4 L511.9,298.6 L516.1,297.7 L515.3,292.7 L511.9,287.6 L506.8,284.2 L503.4,278.3 L505.1,273.2 L511.9,270.7 L520.3,271.6 L525.4,269.9 L527.9,265.6 L527.1,258.9 L528.8,253.8 L533.9,251.3 L538.1,248.8 L542.1,242.8 L547,239.8 L554.3,240.5 L561.6,244 L570,246.6 L578.6,247.7 L583.5,248.9 L589.6,242.8 L593.3,237.4 L598,235.1 L602.9,236.3 L609,240.5 L614.9,244 L617.6,245.4 L621.7,246.2Z M621.7,336.3 L621.7,382.8 L616.6,383.6 L611.6,381.9 L606.5,378.5 L601.4,374.3 L596.4,370.1 L591.3,365 L587.1,360 L582.8,355.7 L577.8,352.4 L572.7,349.8 L567.6,349 L562.6,347.3 L560,343.1 L558.3,336.3Z"/>
<path fill="#F08228" d="M118.3,46.6 L190.9,46.6 L190.9,58.4 L189.3,63.5 L186.7,67.7 L182.5,70.3 L179.1,75.3 L175.7,77.9 L170.7,82.1 L162.2,82.9 L158.9,80.4 L153.8,82.1 L145.3,83.8 L136.9,86.3 L128.4,90.5 L118.3,93.6Z M235,75.3 L236.6,70.3 L240.8,67.7 L246.7,66.9 L246.7,82.9 L240.8,82.1 L236.6,79.6Z M241.6,410.6 L244.2,408.1 L246.7,407.6 L246.7,412.3 L243.3,413.2Z M284.7,76.7 L288.9,77 L293.1,76.2 L296.5,75 L295.7,77.9 L291.5,79.6 L287.2,79.1Z M243.3,68.6 L247.5,69.4 L250.9,72.8 L252.1,77 L250.9,82.1 L247.5,84.6 L243.3,85.8Z M243.3,411.5 L247.5,411.5 L250.1,413.2 L247.5,414.9 L243.3,415.7Z M484,257.5 L486.6,256.9 L487.9,258.9 L486.2,260.6 L484.2,259.6Z M595.7,242.5 L598,240.6 L601.8,241 L603.4,242.8 L601.1,244.4 L597.4,244.2Z M550.7,248.8 L555.8,246.7 L562.6,247.9 L569.3,250.4 L571,253.8 L565.9,255.5 L559.2,255.2 L553.3,253Z M508.5,276.6 L512.7,274.9 L517,277.5 L517.8,281.7 L514.4,284.2 L510.2,282.5Z M521.2,296.1 L524.6,291.8 L530.5,291.8 L535.5,296.1 L538.9,301.1 L540.6,306.2 L537.2,309.6 L533,312.9 L531.3,318 L527.1,316.3 L522.9,309.6 L521.2,302.8Z M621.7,340 L559.2,340 L557.5,334.1 L552.4,329.8 L545.7,328.1 L540.6,329.8 L537.2,326.5 L538.1,319.7 L539.3,312.9 L541.5,307.9 L544.8,303.7 L550.7,301.1 L557.5,300.3 L562.6,297.7 L565.9,292.7 L569.3,288.5 L576.1,285.9 L582.8,286.3 L589.6,288.5 L593.8,284.2 L591.3,277.5 L587.9,270.7 L582.8,265.6 L579.5,260.6 L584.5,256.4 L589.6,253.8 L596.4,258 L603.1,256.4 L609.9,258.9 L613.2,265.6 L616.6,272.4 L621.7,275.8Z M579,336.3 L578.6,339.7 L577.8,344.8 L573.5,347.3 L567.6,346.4 L563.4,342.2 L561.7,336.3Z M621.7,336.3 L621.7,379.4 L618.3,380.2 L613.2,379.4 L608.2,376 L603.1,371.8 L598,367.6 L593,361.6 L590.4,354.9 L592.1,349.8 L591.3,343.1 L589.6,336.3Z"/>
<path fill="#E6AF2D" d="M118.3,58.6 L126.4,58.1 L136.2,57.1 L147,57.6 L155.6,55.9 L160,54.9 L166.5,58.1 L163.2,60.8 L158.9,64 L156.8,66.2 L152.4,68.4 L147,71.1 L141.6,72.6 L136.2,74.3 L133.5,76.5 L134,81.4 L133,86.8 L129.6,90.5 L125.4,91.6 L118.3,92.6Z M556.7,312.9 L560.9,309.6 L565.9,307 L570.2,309.6 L571.9,314.6 L576.1,317.2 L582.8,318 L587.1,321.4 L586.2,329.8 L582.8,336.6 L577.8,340 L565.9,340 L562.6,333.2 L557.5,326.5 L555,319.7Z M540.6,308.7 L544.8,307 L547.4,311.3 L545.7,315.5 L541.5,314.6Z M611.6,297.7 L615.8,291 L621.7,289.3 L621.7,316.3 L616.6,312.9 L612.4,307.9 L609.9,302.8Z M596.4,336.6 L599.7,334.1 L603.1,336.6 L603.1,340 L596.4,340Z M576.9,336.3 L576.1,342.2 L571.9,343.9 L567.6,341.4 L565.9,336.3Z M596.4,366.7 L594.7,361.6 L596.4,356.6 L599.7,354 L603.1,356.6 L604.8,361.6 L609.9,365 L616.6,363.3 L621.7,361.6 L621.7,376.9 L616.6,378.2 L611.6,376.9 L606.5,373.8 L601.4,370.9Z"/>
<path fill="#E6DC32" d="M123,64 L125.9,65 L125.9,69.9 L124.1,72 L123,69.9Z M142,66 L144,63.5 L146,66Z M575.7,325.6 L578.6,323.9 L580.8,327.3 L579.5,332.4 L576.9,330.7Z"/>
<path fill="#BA55D3" d="M118.6,300 L128.1,301.4 L133.5,306.8 L141.6,312.2 L143,317.6 L148.4,325.7 L140.3,333.8 L136.2,329.1 L129.5,325.7 L124.1,321.6 L118.6,318.9Z M149.1,325 L152.4,320.3 L159.2,318.2 L168.6,318.2 L173.4,324.3 L170,329.1 L165.9,333.8 L164.6,343.2 L161.9,344.6 L157.8,340.5 L153.8,333.8 L150.4,329.1Z M132.8,342.6 L137.6,337.8 L144.3,341.9 L151.8,345.3 L155.8,352 L162.6,356.1 L168.6,354.1 L172.7,352.7 L176.1,359.5 L172.7,366.2 L168.6,371.6 L137.6,371.6 L136.9,359.5 L133.5,350Z M118.6,363.5 L136.2,360.8 L136.9,371.6 L118.6,371.6Z M246.7,336.3 L246.7,360 L244.2,356.6 L240.8,349.8 L238.2,343.1 L236.6,336.3Z M165.6,336.3 L164.3,343.9 L159.7,342.2 L157.2,336.3Z M243.3,146.8 L250.1,146.8 L250.9,151.1 L248.4,154.1 L243.3,154.4Z M393.6,177.2 L397.9,174.7 L401.2,177.2 L400.4,182.3 L395.3,182.3Z M538.9,93.6 L545.7,93.6 L545.3,100.7 L544.3,107.4 L543.6,110.8 L541.5,104.1 L539.8,97.3Z M513.6,144.3 L528.8,144.3 L527.9,151.1 L523.7,159.5 L521.2,164.6 L520.3,156.1 L517,149.4Z M493.3,157.8 L500.1,161.2 L505.1,164.6 L511,166.3 L505.1,171.3 L500.1,178.1 L493.3,181.5Z"/>
<path fill="#8B008B" d="M337.1,193.3 L338.8,198.4 L337.1,204.3 L335.4,198.4Z M287.2,430.1 L291.5,425.8 L295.7,429.2 L294.8,433.9 L289.8,434.3Z M295.7,459.3 L299.1,455.1 L305.8,452.6 L312.6,453.4 L318.5,457.6 L321,464.4 L319.3,470.3 L314.3,474.5 L307.5,475.4 L300.7,473.7 L297,470.3Z"/>
<path fill="#9B0000" d="M256.8,60.1 L261.9,55.9 L272,54.2 L285.5,53.7 L297.4,54.2 L305.8,56.8 L308.3,59.3 L304.1,62.7 L297.4,65.2 L287.2,66.9 L275.4,66.9 L265.3,66 L259.4,64.4Z M374.2,201.7 L381.8,203.4 L388.6,213.6 L392.8,225.4 L393.6,238.1 L391.1,244 L386,244 L384.4,238.1 L385.2,228.8 L381.8,218.6 L376.8,210.2 L373.4,205.1Z M493.3,296.1 L497.5,301.1 L500.1,309.6 L502.6,318 L504.1,327.3 L510.2,333.2 L517,337.9 L518.6,340 L493.3,340Z M500.1,252.1 L505.1,249.6 L511.9,252.1 L516.1,257.2 L515.3,261.4 L510.2,262.3 L504.3,258.9 L500.9,255.5Z"/>
<path fill="#CD0000" d="M549.6,342.8 L553.2,340.6 L556.7,343.5 L557.7,351.3 L557.7,359.8 L556.3,367.2 L553.2,365.5 L551.7,358.4 L550.3,349.9Z M532.6,336.4 L537.6,338.5 L541.8,342.8 L542.5,347 L537.6,345.6 L534,342.1Z M204.5,356.6 L207.8,354.9 L212.1,360 L216.3,366.7 L223,371.8 L228.1,376 L229.8,380.2 L224.7,381.9 L218,380.2 L211.2,376.9 L207,371.8 L205.3,365Z M218.8,403 L223,400.5 L231.5,400.5 L234.9,403 L231.5,407.3 L225.6,408.1 L221.4,405.6Z M240.3,382.3 L245.8,379.4 L252.1,378.7 L256.5,384.5 L257.3,394.1 L254.8,400.8 L248.7,402.4 L243.3,399.7 L240.6,392.9Z M471.4,265.6 L478.1,267.3 L484.9,269.9 L491.6,271.6 L496.7,271.6 L496.7,280.9 L489.9,280 L484.9,280 L479.8,277.5 L474.7,272.4Z M496.7,240.3 L496.7,241.2 L488.2,242 L479.8,243.7 L476.4,248.8 L471.4,252.1 L464.6,251.3 L459.5,247.1 L457.8,240.3Z"/>
<path fill="#FF0000" d="M544,267.3 L549.1,265.3 L557.5,267.3 L562.6,270.7 L569.3,269.9 L577.8,270.7 L584.5,274.1 L587.1,279.2 L582.8,283.4 L576.1,282.5 L569.3,281.7 L562.6,285.1 L557.5,286.8 L555,291.8 L551.6,296.1 L545.7,295.7 L539.8,292.7 L536.4,287.6 L537.2,281.7 L542.3,275.8 L544,271.6Z M621.7,251.3 L621.7,271.6 L619.2,265.6 L617.5,258 L614.1,252.1 L610.7,253Z M580.3,343.1 L583.7,339.7 L587.9,341.4 L589.6,346.4 L587.9,352.4 L583.7,354.9 L580.3,350.7Z"/>
<path fill="#FF5F00" d="M594.8,318 L603.7,314.7 L612.6,316.9 L620.4,320.2 L620.4,339.2 L612.6,337 L605.9,334.8 L599.2,328.1 L594.8,323.6Z M559,291.2 L568,289 L576.9,291.2 L582.5,295.7 L580.2,301.3 L572.4,300.1 L563.5,297.9Z M533.3,329.3 L557.4,329.3 L557.4,335 L551.7,337.1 L544.6,336.4 L537.6,334.3Z"/>
<path fill="#E6AF2D" d="M556.8,310.2 L563.5,306.8 L570.2,308 L574.7,314.7 L583.6,318 L588.5,323.6 L586.9,331.4 L582.5,337 L578,343.7 L571.3,344.8 L568,337 L563.5,330.3 L557.9,322.5 L555.7,315.8Z M592.5,335.9 L599.2,333.6 L603.7,339.2 L600.3,344.8 L594.8,342.6Z"/>
<path fill="#E6DC32" d="M575.8,324.7 L578.7,323.1 L580.9,326.9 L579.1,332.5 L576.4,330.3Z"/>
<path fill="#D8BFD8" d="M359.9,264 L366.6,265.6 L371.7,269 L371.7,278.3 L366.6,274.9 L361.6,269.9Z M368.3,265.6 L375.1,267.3 L377.6,274.1 L373.4,275.8 L368.3,272.4Z M392,294.4 L395.3,292.7 L397.9,296.1 L395.3,301.1 L392.8,298.6Z"/>
<path fill="#8B008B" d="M493.3,315.5 L496.7,317.2 L498.7,323.1 L499.2,331.5 L498.7,340 L493.3,340Z"/>
<path fill="#9B0000" d="M223,403 L228.1,401.9 L232.3,403.9 L229,406.4 L224.7,405.6Z M242,383.9 L246,381.4 L251.4,380.7 L254.8,385.5 L255.5,393.6 L253.4,399 L248.7,400.3 L244.7,397.6 L242.6,392.2Z"/>
</g>
<g clip-path="url(#mapclip)">

<g stroke="#7d7d7d" stroke-width="1" stroke-dasharray="2 4" shape-rendering="crispEdges"><line x1="136.5" y1="52" x2="136.5" y2="529"/><line x1="196.5" y1="52" x2="196.5" y2="529"/><line x1="256.5" y1="52" x2="256.5" y2="529"/><line x1="317.5" y1="52" x2="317.5" y2="529"/><line x1="377.5" y1="52" x2="377.5" y2="529"/><line x1="437.5" y1="52" x2="437.5" y2="529"/><line x1="498.5" y1="52" x2="498.5" y2="529"/><line x1="558.5" y1="52" x2="558.5" y2="529"/><line x1="121" y1="475.5" x2="618" y2="475.5"/><line x1="121" y1="401.5" x2="618" y2="401.5"/><line x1="121" y1="327.5" x2="618" y2="327.5"/><line x1="121" y1="254.5" x2="618" y2="254.5"/><line x1="121" y1="180.5" x2="618" y2="180.5"/><line x1="121" y1="106.5" x2="618" y2="106.5"/></g>
<path fill="none" stroke="#626862" stroke-width="2" stroke-linejoin="round" stroke-linecap="round" shape-rendering="crispEdges" d="M202.8,130 L196,132.5 L189.3,135.1 L182.5,138.4 L175.7,141 L169,143.5 L163.9,145.2 L159.7,146.9 L156.3,151.1 L153.8,155 M159.7,146.9 L165.6,142.7 L170.7,140.1 L168.1,138.4 L163.9,137.6 L159.7,139.3 L155.5,141.8 L152.1,146 L148.7,151.1 L145.3,156.2 L145,160.4 L147.9,163.8 L151.2,166.3 L153.8,169.7 L155.5,173.9 L158.9,177.3 L163.9,179 L168.1,180.7 L168.1,184.1 L165.6,188.3 L163.9,191.7 L160.5,194.2 L158,193.3 L159.7,189.1 L160.9,187.1 M158,193.3 L152.9,191.7 L151.2,195 L150.1,200.9 L150.4,207.7 L151.2,214.5 L152.9,220.4 L154.6,226.3 M249.2,135.6 L245.7,136.3 L242.3,136.1 L241.2,138.3 L235.6,139.5 L232.3,140.6 L231.2,142.3 L225.6,142.8 L226.7,147.3 L228.9,154 L231.2,160.7 L231.7,167.4 L234.5,171.8 L237.9,177.4 L240.6,180.2 L243.4,184.1 L246.2,189.1 L245.7,190.8 L247.9,194.2 L251.2,196.9 L253.5,195.3 L255.7,193 L255.2,189.7 L256.8,186.3 L260.2,183.5 L264.6,182.4 L266.9,179.6 L268,172.9 L270,168.5 M231.2,142.3 L234.5,146.2 L242.3,146.7 L249,146.2 L255.7,145.6 L270,145.3 M154.6,226 L156.3,231.1 L159.7,237.8 L164.8,243.7 L170.7,249.6 L176.6,254.7 L183.3,256.1 L189.3,258.9 L196,264 L202.8,269.1 L207.8,273.3 L213.8,277.5 L219.7,280.4 L225.6,281.4 L230.6,284.3 L233.2,289.3 L235.7,295.3 L238.2,301.2 L241.6,307.9 L244.2,313.8 L245.8,318.1 M159.7,258.1 L162.2,255.1 L165.6,254.7 L166.5,258.1 L164.3,261.1 L161.4,261.1 L159.7,258.1 M133.2,400 L138.9,403.8 L144.6,409.5 L149.3,417 L155,421.8 L161.6,427.4 L167.3,433.1 L173,438.8 L178.6,441.6 L185.3,443.5 L190.9,446.3 L194.7,451.1 L197.6,455.8 L202.3,456.4 L207,453.9 L212.7,453 L218.4,454.5 L224,455.8 L229.7,456.4 L235.4,455.2 L240.1,455.8 L243,459.6 L245.8,464.7 M264.7,144.6 L272.2,144.1 L279.6,143.7 L283.3,141.9 L286.3,138.2 L289.3,133.7 L291.5,130.7 L293.7,133.7 L297.4,138.2 L301.9,142.6 L306.4,145.6 L310.8,144.1 L315.3,143.1 L319.7,144.1 L324.2,147.1 L328.7,147.8 L333.1,144.9 L334.6,138.9 L333.9,133.7 L337.6,130.7 M265.5,180.5 L266.2,175.3 L268.4,170.1 L270.7,165.7 L272.2,160.5 L273.9,156 L277.4,153.8 L282.6,154.5 L287.8,157.5 L292.2,161.2 L297.4,164.9 L302.6,167.9 L307.1,171.6 L309.3,176.1 L310.1,182 L309.3,188 L308.6,193.9 L309.3,199.1 L312.3,204.3 L316,208.8 L319.7,213.2 M282.6,173.1 L284.8,168.7 L287.8,163.4 L292.2,162.7 L295.2,167.2 L297.4,171.6 L300.4,175.3 L303.4,177.6 L304.9,181.3 L302.6,183.5 L297.4,182.8 L292.2,180.5 L287,178.3 L283.3,176.1 L282.6,173.1 M300.4,202.1 L303.4,204.3 L307.1,207.3 L310.8,211 L313.8,214.4 M300.4,202.1 L301.9,205.8 L305.6,209.5 L309.3,213.2 M273,167 L276,166.2 L278.7,168.7 L279.5,174.7 L280.7,179.8 L283.1,186.9 L285.5,195 L288.2,203.1 L289.2,206.8 L286.8,208.4 L284.1,203.1 L281.5,195 L279.5,186.9 L277.4,179.8 L275,173.7 L273,169.7 L273,167 M278,184.9 L276.2,189.9 L277,197 L278.7,203.1 L278,207.2 L280.1,211.2 L284.1,215.3 L288.8,218.9 M309.7,200 L312,204.5 L315.7,208.9 L318.7,213.4 L317.9,219.3 L320.1,223.8 L323.1,228.2 L325.3,232 L323.9,234.9 L325.3,238.7 L329.1,243.1 L332.8,247.6 L337.2,252 L342.4,257.2 L347.6,260.9 L352.8,264.7 L357.3,268.4 L362.5,271.1 L367.7,273.6 L372.2,275.8 L375.1,278.8 L373.7,283.2 L372.9,285 M300.8,202.2 L303.8,205.9 L308.2,210.4 L312.7,214.9 L317.2,217.8 L320.1,215.6 L323.1,217.1 L327.6,222.3 L331.3,226.8 L335,230.5 L339.5,232 L343.9,232.4 L348.4,233.4 L343.9,234.2 L338.7,233.4 L335,232 L332.8,234.9 L329.1,234.9 L326.1,233.4 M300.8,202.2 L306,205.2 L310.5,208.2 L314.9,211.1 L317.2,214.9 M307.5,240.9 L310.5,243.9 L314.2,248.3 L317.9,252.8 L321.6,256.5 L326.1,258.7 L329.8,259.5 L330.5,261.7 L327.6,262.7 L324.6,260.9 L322.4,258 L319.4,254.3 L315.7,249.8 L312,245.3 L308.2,242.4 L307.5,240.9 M280,208.9 L283,212.6 L286.7,216.4 L288.9,218.6 M282.2,200 L285.2,203.7 L286.7,206.7 L284.5,208.2 L281.5,205.2 M367.7,200.7 L373.7,201.5 L377.4,205.9 L381.1,211.9 L384.8,217.8 L387.8,223.8 L388.5,229.7 L386.3,234.9 L385.5,238.7 L390.7,238.9 M238,300 L241.1,306.1 L244.1,314.2 L247.2,322.3 L249.2,330.4 L252.2,338.5 L255.3,346.6 L259.3,353.7 L264.4,360.8 L269.5,366.9 L275.5,372 L281.6,378 L287.7,383.1 L292.8,386.2 L298.9,388.2 L299.9,392.2 L303.9,396.3 L309,399.3 L316.1,400.3 L320.1,404.4 L326.2,406.4 L336.4,407.4 L348.5,407 L360.7,406.4 L372.8,405 L381,405.4 L386,407.4 M257,477.7 L259.3,483.5 L264,487.6 L270.9,486.3 L276.7,488.1 L282.5,491.6 L284.8,495.1 L281.4,498.5 L277.9,501.6 L281.4,503.2 L289.5,500.9 L297.6,499.2 L304.6,499.7 L309.2,503.2 L312.7,509 L315.7,515.9 L316.2,521.7 L312.7,528 M233.8,455.2 L240.8,457.5 L244.3,462.1 L245.4,466.1 M360.9,193.5 L361.9,184.1 L362.8,172.7 L364.7,166.1 L369.5,162.9 L376.1,162.9 L380.8,166.1 L385.5,171.8 L390.3,177.4 L395,179.9 L398.8,177.4 L402.6,170.8 L406.3,165.1 L410.1,162.9 L416.8,164.2 L423.4,166.1 L428.1,164.2 L431.9,159.8 L435.7,161.7 L441.3,165.1 L447,168 L453.6,167.4 L460.3,168.9 L467.8,171.2 L475.4,171.8 L483,172.7 L488.6,175.5 L494.3,174.2 L500.9,172.7 M360.9,193.5 L365.7,198.2 L372.3,201.1 L377,204.9 L378.9,210.5 L382.7,215.3 L386.5,221.9 L388.4,229.5 L386.5,235.1 L385.5,238.5 L390.3,239.9 L395,242.7 L398.8,248.4 L404.5,252.2 L410.1,253.7 L413.9,257.8 L415.8,260.3 M393.6,240 L398.4,245.7 L404.1,250.4 L409.7,252.3 L414.5,257 L420.1,263.6 L425.8,271.2 L431.5,278.8 L437.2,285.4 L443.8,289.6 L451.3,292 L454.2,296.8 L455.1,303.4 L458,309.1 L463.6,313.8 L469.3,318.5 L474,324.2 L475.9,328.9 L480.7,332.7 L486.3,333.6 L491.1,338.4 L495.8,343.1 L502.4,345.9 L509,349.3 M370,275 L373.8,277.8 L372.8,282.6 L374.7,287.3 L379.5,290.1 L385.1,290.7 L390.8,288.2 L397.4,286.3 L404.1,287.3 L409.7,291.1 L415.4,294.9 L422,297.7 L428.6,300.5 L435.3,303.4 L440.9,306.2 L447.6,310 L455.1,314.7 L460.8,319.5 L466.5,324.2 L471.2,328 L475,332.7 L478.8,333.6 M402.2,300.5 L407.8,298.6 L417.3,299.6 L426.8,301.5 L431.5,304.3 L428.6,307.2 L421.1,308.1 L411.6,307.2 L405,305.3 L402.2,300.5 M400.3,312.8 L407.8,310.9 L417.3,312.8 L426.8,315.3 L436.2,316.6 L444.7,317.2 L444.7,319.1 L436.2,318.5 L426.8,317.9 L417.3,317.6 L407.8,316.6 L402.2,315.3 L400.3,312.8 M379.8,323.2 L384.2,321 L389.9,321.3 L391.8,324.2 L388,326.6 L382.3,327 L379.8,323.2 M415.4,328.9 L421.1,327.4 L428.6,328.5 L436.2,329.9 L443.8,329.3 L447.6,330.8 L445.7,333.1 L438.1,332.7 L430.5,333.6 L423,333.6 L417.3,331.8 L415.4,328.9 M438.1,324.2 L445.7,325.1 L453.2,328 L460.8,331.8 L468.4,334.6 L475.9,337.4 L483.5,340.3 L491.1,343.1 L496.7,345 M438.1,324.2 L444.7,327.4 L452.3,330.8 L459.9,334.6 L467.4,337.4 M457,343.1 L462.7,341.8 L470.3,343.1 L477.8,345 L483.5,347.8 L479.7,349.3 L472.2,347.5 L464.6,345.9 L458,345 L457,343.1 M369,405.8 L376.1,404.6 L382.2,405.8 L387.2,409.3 L389.3,414.3 L387.2,419.4 L382.2,423.4 L376.1,426.5 L372,429.5 L370.4,433.6 L372,438.7 L376.1,442.3 L382.2,445.1 L390.3,448.8 L398.4,452.4 L406.5,455.9 L414.6,459.9 L424.7,463 L432.8,466 L441,469.1 L449.1,473.1 L455.1,478.2 L461.2,484.3 L467.3,488.3 L475.4,491.4 L483.5,494.4 L491.6,496.4 L497.7,499.5 L499.7,505.5 M497.7,498.8 L499.7,504.9 L503.8,509.9 L509.9,515 L516,520.1 L521,524.1 M422.7,529.2 L426.8,523.1 L430.8,517 L435.9,512 L442,509.9 L450.1,510.5 L457.2,512 L454.1,514 L450.1,515.4 L450.1,518 L455.1,521.1 L461.2,524.1 L469.3,526.2 L479.5,526.2 L487.6,527.2 L491.6,529.6 M494.2,121.8 L501.8,122.1 L511.9,122.9 L520.3,124.6 L527.1,122.9 L533,118.7 L538.1,114.5 L544,113.6 L550.7,111.1 L557.5,107.7 L562.6,105.5 L569.3,106.6 L576.1,106 L582.8,101.8 L587.1,98.4 L591.3,94.2 L598,93.4 L604.8,94.7 L613.2,94.2 L619.2,93.7 M546.5,113.6 L550.7,117.9 L555,122.1 L555.8,128.9 L553.3,133.1 L551.6,136.5 L553.3,139.8 L558.3,139.8 L562.6,140.7 L563.9,142.7 L561.7,144.1 L558.3,143.2 L557.8,147.4 L557.5,152.5 L561.7,155.9 L565.9,158.4 L571,160.1 L577.8,161.8 L582.8,162.6 L583.7,165.2 L580.3,166.9 L574.4,166 L571,164.3 L567.6,164.3 L565.9,169.4 L564.3,174.5 L562.6,179.5 L560,184.6 L558.3,186.6 M494.2,173.1 L501.8,172.8 L508.5,172.4 L511.9,170.2 L518.6,170.7 L527.1,171.9 L533.9,173.6 L540.6,176.1 L544.8,179.5 L545.7,184.6 L545.3,186.6 M544,186 L549.1,188.5 L554.1,190.2 L559.2,190.2 L562.6,187.7 L567.6,186 L574.4,185.7 L579.5,186.8 L581.1,191.1 L579.5,197.8 L576.1,204.6 L571.9,209.6 L567.6,213 L565.6,218.1 L565.1,224.9 L565.9,229.9 L570.2,233.3 L576.1,235 L581.1,238.4 L586.2,242.6 L592.1,246.8 L596,250.2 L594.7,253.6 L590.4,256.1 L584.5,256.1 L579.5,254.4 L574.4,253.2 L573.5,255.3 L577.8,260.3 L582.8,265.4 L587.1,270.5 L588.8,276.4 L588.8,282.6 M588.8,282 L587.1,284.5 L581.1,285.7 L576.1,287.9 L572.7,289.1 L567.6,287.9 L562.6,286.2 L558.3,286.7 L555.5,290.4 L556.7,293.8 L560,296.4 L562.6,300.6 L563.4,305.6 L561.7,309 L558.3,308.7 L555.8,305.6 L554.1,301.4 L550.7,300.6 L545.7,303.1 L541.5,306.5 L538.9,311.6 L538.1,316.6 L536.4,321.7 L532.2,324.2 L527.9,326.8 L526.2,331 L525.4,336.1 L525.1,341.1 L527.9,345.3 L531.3,348.7 L531.8,352.1 L528.8,355.5 L525.4,358.9 L525.1,363.1 L526.2,367.3 L528.8,369.8 M572.7,289.1 L576.1,293 L581.1,297.2 L586.2,301.4 L591.3,306.5 L595.5,311.6 L598,314.1 L604.8,315.8 L611.6,318.3 L619.2,321.7 M479,334 L486.6,339.4 L494.2,344.5 L500.1,347.9 L506.8,351.3 L513.6,354.6 L520.3,356.3 L524.6,359.7 L528.8,369.8 L533.9,368.1 L538.9,367.3 L540.9,369.8 L538.1,371.5 L533,370.7 L530.5,371.5 L535.5,374.9 L540.6,378.3 M583.7,378.3 L587.1,373.2 L591.3,366.5 L594.7,359.7 L596.4,354.6 L600.6,351.6 L603.1,353.8 L604,358.9 L605.6,363.9 L609.9,365.6 L614.9,363.9 L619.2,361.4 M542.3,378 L549.1,381.4 L554.1,384.8 L559.2,389.8 L564.3,394 L566.8,398.3 L565.9,402.5 L569.3,405.9 L574.4,408.4 L578.6,410.9 L582.8,410.9 L587.9,411.8 L593,414.3 L594.3,420.2 L593.8,427 L591.3,432.1 L587.9,436.3 L586.2,442.2 L585.4,448.9 L587.6,453.2 L587.6,459.1 L586.2,465.8 L585.4,474.3 M582.8,378 L579.5,382.2 L576.9,386.4 L578.6,389.8 L582,393.2 L581.1,398.3 L579.5,403.3 L579.1,408.4 L579.5,410.9 M585.4,450 L588.8,453.4 L587.9,460.1 L585.4,466.9 L585.4,472 L588.8,477 L590.4,480.4 L587.9,482.9 L583.7,484.6 L582,490.5 L579.5,496.5 L577.4,500.7 L580.3,504.1 L584.5,507.4 L587.1,512.5 L587.9,517.6 L586.2,522.6 L583.7,525.2 L580.3,520.9 L577.8,516.7 L576.1,517.6 L577.8,522.6 L581.1,526.9 L582.8,529.4 M494.2,498.6 L498.4,500.7 L500.1,505.7 L502.6,510 L507.7,514.2 L513.6,518.4 L518.6,522.6 L522.9,526.9 L524.6,529.4 M157.2,52 L162.2,55.1 L169,56.8 L175.7,57.1 L182.5,57.6 L187.6,60.1 L194.3,61.5 L201.1,62.7 L207.8,64.4 L214.6,64.9 L224.7,65.2 L233.2,66 L239.9,66.9 L245.8,67.2 M239.9,66.9 L238.2,71.1 L233.2,73.6 L228.1,77 L223,80.4 L219.7,82.9 L218.8,85.5 L221.4,88 L226.4,89.2 L231.5,90.5 L236.6,93.1 L234.9,96.5 L231.5,99 L228.1,100.7 L225.6,104.1 L225.6,106.6 L229,107.4 L233.2,107.4 L234.9,110 L233.2,113.3 L231.5,116.7 L232.3,120.1 L234.9,121.8 L239.9,123 L245.8,124.3 M152.1,144.9 L156.3,141.2 L161.4,138.2 L165.6,137.8 L170.7,139.5 L175.7,139.5 L180.8,137.8 L187.6,135.3 L194.3,133.6 L199.4,131.9 L201.1,127.7 L202.8,123.5 L207.8,122.6 L214.6,123.5 L219.7,126 L221.4,128.5 L224.7,127.7 L228.1,124.3 L231.5,121.8 M170.7,139.5 L166.5,142.6 L162.2,144.6 L159.7,146.3 M236.6,129.4 L238.2,126 L240.8,131.1 L244.2,134.5 L245.8,137 M245.8,134.1 L241.6,137.8 L236.6,141.2 L229.8,142.9 L226.4,143.8 L228.1,146.3 M120,391.7 L124.2,396.3 L126.8,398.5 L131.8,399.7 L136.9,402.2 L142,405.6 L146.2,410.6 L147.9,415.7 L152.9,420.8 L158.9,426.7 L165.6,432.6 M244.2,67.2 L251.8,68.6 L258.5,71.1 L265.3,73.6 L273.7,75 L282.2,75.3 L288.9,75.7 L295.7,72.8 L300.7,69.4 L305,66 L308.3,61.8 L312.6,59.3 L319.3,58.4 L326.1,58.1 L332.8,57.6 L339.6,57.1 L346.4,56.4 L354.8,54.2 L363.2,53 L370.8,52.5 M370.8,86.3 L364.9,88 L358.2,89.7 L354,93.1 L353.1,96.5 L355.6,99.8 L359.9,102.4 L360.7,108.3 L360.7,115 L357.3,118.4 L353.1,117.6 L348,119.3 L343,120.9 L337.9,123.5 L334.5,126.9 L336.2,129.4 L337.1,132.8 L333.7,135.3 L331.1,139.5 L329.5,146.6 M360.7,115 L366.6,113.3 L370.8,111.7 M244.2,124.3 L247.5,126.9 L250.1,130.2 L250.9,133.6 L248.4,136.1 L245,137 M245,145.4 L253.4,144.6 L261.9,144.3 L270.3,143.8 L278.8,142.1 L284.7,137.8 L288.1,132.8 L291.5,130.7 L294,132.8 L297.4,137 L302.4,142.1 L306.7,146.3 M369.2,86.3 L375.1,83.8 L381.8,79.6 L382.7,77 L388.6,75.3 L392.8,72 L392.8,67.7 L397,66.6 L402.9,66.9 L408.9,69.9 L415.6,71.6 L422.4,75.3 L428.3,79.6 L430.8,83.8 L435,88 L440.9,90.2 L446.9,92.2 L451.1,97.3 L453.6,102.4 L454.5,105.7 L458.7,109.1 L462.1,110.5 L468,109.5 L473,110.8 L476.4,114.2 L478.1,117.6 L483.2,119.6 L488.2,121.8 L495.8,121.8 M398.7,52 L402.1,56.8 L405.5,62.7 L408.9,66.9 L410.5,69.9"/>
</g>
<rect x="516.5" y="51" width="103" height="41.5" fill="#fff" stroke="#000" stroke-width="1" shape-rendering="crispEdges"/>
<rect x="120" y="465.5" width="135.5" height="65" fill="#fff" stroke="#000" stroke-width="1" shape-rendering="crispEdges"/>
<rect x="120" y="51" width="499" height="479" fill="none" stroke="#000" stroke-width="2" shape-rendering="crispEdges"/>
<g stroke="#000" stroke-width="1" shape-rendering="crispEdges"><line x1="136.5" y1="531" x2="136.5" y2="534"/><line x1="196.5" y1="531" x2="196.5" y2="534"/><line x1="256.5" y1="531" x2="256.5" y2="534"/><line x1="317.5" y1="531" x2="317.5" y2="534"/><line x1="377.5" y1="531" x2="377.5" y2="534"/><line x1="437.5" y1="531" x2="437.5" y2="534"/><line x1="498.5" y1="531" x2="498.5" y2="534"/><line x1="558.5" y1="531" x2="558.5" y2="534"/><line x1="619.5" y1="531" x2="619.5" y2="534"/><line x1="117" y1="475.5" x2="119" y2="475.5"/><line x1="117" y1="401.5" x2="119" y2="401.5"/><line x1="117" y1="327.5" x2="119" y2="327.5"/><line x1="117" y1="254.5" x2="119" y2="254.5"/><line x1="117" y1="180.5" x2="119" y2="180.5"/><line x1="117" y1="106.5" x2="119" y2="106.5"/></g>
<text x="136.5" y="544" font-size="10.5" text-anchor="middle" textLength="15" lengthAdjust="spacingAndGlyphs">12E</text>
<text x="196.5" y="544" font-size="10.5" text-anchor="middle" textLength="15" lengthAdjust="spacingAndGlyphs">13E</text>
<text x="256.5" y="544" font-size="10.5" text-anchor="middle" textLength="15" lengthAdjust="spacingAndGlyphs">14E</text>
<text x="317.5" y="544" font-size="10.5" text-anchor="middle" textLength="15" lengthAdjust="spacingAndGlyphs">15E</text>
<text x="377.5" y="544" font-size="10.5" text-anchor="middle" textLength="15" lengthAdjust="spacingAndGlyphs">16E</text>
<text x="437.5" y="544" font-size="10.5" text-anchor="middle" textLength="15" lengthAdjust="spacingAndGlyphs">17E</text>
<text x="498.5" y="544" font-size="10.5" text-anchor="middle" textLength="15" lengthAdjust="spacingAndGlyphs">18E</text>
<text x="558.5" y="544" font-size="10.5" text-anchor="middle" textLength="15" lengthAdjust="spacingAndGlyphs">19E</text>
<text x="619.5" y="544" font-size="10.5" text-anchor="middle" textLength="15" lengthAdjust="spacingAndGlyphs">20E</text>
<text x="114.5" y="479.5" font-size="10.5" text-anchor="end" textLength="17" lengthAdjust="spacingAndGlyphs">41N</text>
<text x="114.5" y="405.5" font-size="10.5" text-anchor="end" textLength="17" lengthAdjust="spacingAndGlyphs">42N</text>
<text x="114.5" y="331.5" font-size="10.5" text-anchor="end" textLength="17" lengthAdjust="spacingAndGlyphs">43N</text>
<text x="114.5" y="258.5" font-size="10.5" text-anchor="end" textLength="17" lengthAdjust="spacingAndGlyphs">44N</text>
<text x="114.5" y="184.5" font-size="10.5" text-anchor="end" textLength="17" lengthAdjust="spacingAndGlyphs">45N</text>
<text x="114.5" y="110.5" font-size="10.5" text-anchor="end" textLength="17" lengthAdjust="spacingAndGlyphs">46N</text>
<rect x="652" y="77.00" width="15" height="18.92" fill="#FFEFDB" shape-rendering="crispEdges"/>
<rect x="652" y="95.62" width="15" height="18.92" fill="#D8BFD8" shape-rendering="crispEdges"/>
<rect x="652" y="114.24" width="15" height="18.92" fill="#DDA0DD" shape-rendering="crispEdges"/>
<rect x="652" y="132.86" width="15" height="18.92" fill="#BA55D3" shape-rendering="crispEdges"/>
<rect x="652" y="151.48" width="15" height="18.92" fill="#8B008B" shape-rendering="crispEdges"/>
<rect x="652" y="170.10" width="15" height="18.92" fill="#9B0000" shape-rendering="crispEdges"/>
<rect x="652" y="188.72" width="15" height="18.92" fill="#CD0000" shape-rendering="crispEdges"/>
<rect x="652" y="207.34" width="15" height="18.92" fill="#FF0000" shape-rendering="crispEdges"/>
<rect x="652" y="225.96" width="15" height="18.92" fill="#FF5F00" shape-rendering="crispEdges"/>
<rect x="652" y="244.58" width="15" height="18.92" fill="#F08228" shape-rendering="crispEdges"/>
<rect x="652" y="263.20" width="15" height="18.92" fill="#E6AF2D" shape-rendering="crispEdges"/>
<rect x="652" y="281.82" width="15" height="18.92" fill="#E6DC32" shape-rendering="crispEdges"/>
<rect x="652" y="300.44" width="15" height="18.92" fill="#FAF064" shape-rendering="crispEdges"/>
<rect x="652" y="319.06" width="15" height="18.92" fill="#E1F0A5" shape-rendering="crispEdges"/>
<rect x="652" y="337.68" width="15" height="18.92" fill="#A0E632" shape-rendering="crispEdges"/>
<rect x="652" y="356.30" width="15" height="18.92" fill="#00DC00" shape-rendering="crispEdges"/>
<rect x="652" y="374.92" width="15" height="18.92" fill="#00B400" shape-rendering="crispEdges"/>
<rect x="652" y="393.54" width="15" height="18.92" fill="#007800" shape-rendering="crispEdges"/>
<rect x="652" y="412.16" width="15" height="18.92" fill="#1E3CFF" shape-rendering="crispEdges"/>
<rect x="652" y="430.78" width="15" height="18.92" fill="#00A0EB" shape-rendering="crispEdges"/>
<rect x="652" y="449.40" width="15" height="18.92" fill="#B0E0E6" shape-rendering="crispEdges"/>
<rect x="652" y="468.02" width="15" height="18.92" fill="#F0FFFF" shape-rendering="crispEdges"/>
<text x="670.5" y="81.3" font-size="12" letter-spacing="0.6">29</text>
<text x="670.5" y="99.9" font-size="12" letter-spacing="0.6">27</text>
<text x="670.5" y="118.5" font-size="12" letter-spacing="0.6">25</text>
<text x="670.5" y="137.2" font-size="12" letter-spacing="0.6">23</text>
<text x="670.5" y="155.8" font-size="12" letter-spacing="0.6">21</text>
<text x="670.5" y="174.4" font-size="12" letter-spacing="0.6">19</text>
<text x="670.5" y="193.0" font-size="12" letter-spacing="0.6">17</text>
<text x="670.5" y="211.6" font-size="12" letter-spacing="0.6">15</text>
<text x="670.5" y="230.3" font-size="12" letter-spacing="0.6">13</text>
<text x="670.5" y="248.9" font-size="12" letter-spacing="0.6">11</text>
<text x="670.5" y="267.5" font-size="12" letter-spacing="0.6">9</text>
<text x="670.5" y="286.1" font-size="12" letter-spacing="0.6">7</text>
<text x="670.5" y="304.7" font-size="12" letter-spacing="0.6">5</text>
<text x="670.5" y="323.4" font-size="12" letter-spacing="0.6">3</text>
<text x="670.5" y="342.0" font-size="12" letter-spacing="0.6">1</text>
<text x="670.5" y="360.6" font-size="12" letter-spacing="0.6">−1</text>
<text x="670.5" y="379.2" font-size="12" letter-spacing="0.6">−3</text>
<text x="670.5" y="397.8" font-size="12" letter-spacing="0.6">−5</text>
<text x="670.5" y="416.5" font-size="12" letter-spacing="0.6">−7</text>
<text x="670.5" y="435.1" font-size="12" letter-spacing="0.6">−9</text>
<text x="670.5" y="453.7" font-size="12" letter-spacing="0.6">−11</text>
<text x="670.5" y="472.3" font-size="12" letter-spacing="0.6">−13</text>
<text x="670.5" y="490.9" font-size="12" letter-spacing="0.6">−15</text>
<text x="670.5" y="509.6" font-size="12" letter-spacing="0.6">−17</text>
<text x="664" y="529" font-size="9.5" textLength="35" lengthAdjust="spacing">(st. C)</text>
<text x="528.5" y="78.5" font-size="20" fill="#1E3CFF" style="fill:#1E3CFF">©</text>
<text x="548.5" y="78.5" font-size="20" style="fill:#1E3CFF" textLength="57" lengthAdjust="spacing">DHMZ</text>
<text x="171.0" y="40" font-size="15" stroke="#fff" stroke-width="0.25" textLength="96.0" lengthAdjust="spacingAndGlyphs">Temperatura</text>
<text x="279.0" y="40" font-size="15" stroke="#fff" stroke-width="0.25" textLength="40.0" lengthAdjust="spacingAndGlyphs">zraka</text>
<text x="332.0" y="40" font-size="15" stroke="#fff" stroke-width="0.25" textLength="16.0" lengthAdjust="spacingAndGlyphs">na</text>
<text x="359.5" y="40" font-size="15" stroke="#fff" stroke-width="0.25" textLength="23.2" lengthAdjust="spacingAndGlyphs">2m</text>
<text x="393.5" y="40" font-size="15" stroke="#fff" stroke-width="0.25" textLength="8.5" lengthAdjust="spacingAndGlyphs">u</text>
<text x="414.0" y="40" font-size="15" stroke="#fff" stroke-width="0.25" textLength="17.4" lengthAdjust="spacingAndGlyphs">18</text>
<text x="441.0" y="40" font-size="15" stroke="#fff" stroke-width="0.25" textLength="28.2" lengthAdjust="spacingAndGlyphs">UTC</text>
<text x="481.0" y="40" font-size="15" stroke="#fff" stroke-width="0.25" textLength="86.0" lengthAdjust="spacingAndGlyphs">12JUN2011</text>
<text x="148.5" y="484.0" font-size="10.5" textLength="99.9" lengthAdjust="spacing" xml:space="preserve">Temperatura zraka</text>
<text x="172.7" y="497.5" font-size="10.5" textLength="75.7" lengthAdjust="spacing" xml:space="preserve">na 2m (st. C)</text>
<text x="142.4" y="511.0" font-size="10.5" textLength="106.0" lengthAdjust="spacing" xml:space="preserve">start 00z11jun2011</text>
<text x="129.0" y="524.3" font-size="10.5" textLength="119.4" lengthAdjust="spacing" xml:space="preserve">termin 18Z12JUN2011</text>
</svg></body></html>
